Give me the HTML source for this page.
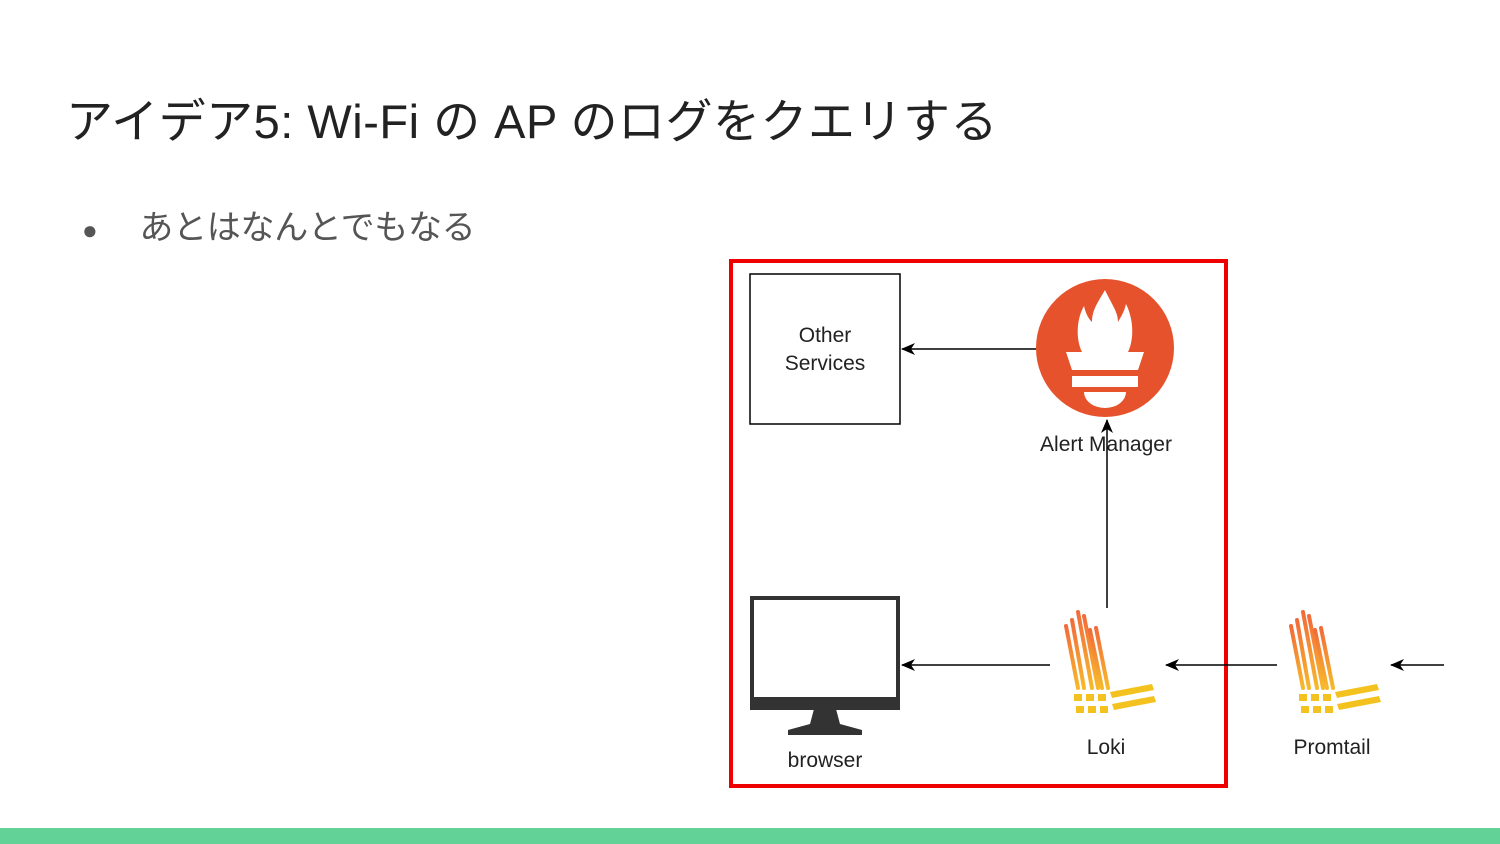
<!DOCTYPE html>
<html><head><meta charset="utf-8"><style>
body{margin:0;width:1500px;height:844px;background:#fff;overflow:hidden;position:relative;font-family:"Liberation Sans","Noto Sans CJK JP",sans-serif}
.t{position:absolute;left:66px;top:83px;font-size:47px;color:#222;white-space:nowrap;letter-spacing:0.5px}
.b{position:absolute;left:82px;top:200px;font-size:34px;color:#555;white-space:nowrap;letter-spacing:-0.3px}
.g{position:absolute;left:0;top:828px;width:1500px;height:16px;background:#63d297}
</style></head><body>
<div class="t">アイデア5: Wi-Fi の AP のログをクエリする</div>
<div class="b"><span style="font-size:26px;margin-right:42px">●</span>あとはなんとでもなる</div>
<svg width="1500" height="844" style="position:absolute;left:0;top:0">
<defs>
<marker id="a" markerWidth="14" markerHeight="14" refX="13" refY="7" orient="auto" markerUnits="userSpaceOnUse"><path d="M0,1 L14,7 L0,13 L4,7 Z" fill="#000"/></marker>
<linearGradient id="og" x1="0" y1="0" x2="0" y2="1"><stop offset="0" stop-color="#f26b3a"/><stop offset="1" stop-color="#f7b92b"/></linearGradient>
<g id="loki">
<g stroke="url(#og)" stroke-width="4" stroke-linecap="round">
<line x1="8" y1="20" x2="20" y2="82"/><line x1="14" y1="14" x2="26" y2="82"/>
<line x1="20" y1="6" x2="34" y2="82"/><line x1="26" y1="10" x2="40" y2="82"/>
<line x1="32" y1="24" x2="44" y2="82"/><line x1="38" y1="22" x2="50" y2="82"/>
</g>
<g fill="#f4c21f">
<rect x="16" y="88" width="8" height="7"/><rect x="28" y="88" width="8" height="7"/><rect x="40" y="88" width="8" height="7"/>
<rect x="18" y="100" width="8" height="7"/><rect x="30" y="100" width="8" height="7"/><rect x="42" y="100" width="8" height="7"/>
<polygon points="52,86 94,78 96,84 54,92"/><polygon points="54,98 96,90 98,96 56,104"/>
</g>
</g>
</defs>
<rect x="731" y="261" width="495" height="525" fill="none" stroke="#ee0000" stroke-width="4"/>
<rect x="750" y="274" width="150" height="150" fill="none" stroke="#000" stroke-width="1.5"/>
<text x="825" y="342" font-size="21" text-anchor="middle" fill="#222">Other</text>
<text x="825" y="370" font-size="21" text-anchor="middle" fill="#222">Services</text>
<circle cx="1105" cy="348" r="69" fill="#e6522c"/>
<path d="M1105,290 C1112,305 1118,312 1118,322 C1122,315 1124,312 1126,304 C1134,320 1134,340 1128,352 L1082,352 C1076,340 1076,320 1084,306 C1086,314 1088,318 1092,322 C1092,310 1098,302 1105,290Z" fill="#fff"/>
<path d="M1066,352 L1144,352 L1138,370 L1072,370Z" fill="#fff"/>
<rect x="1072" y="376" width="66" height="11" fill="#fff"/>
<path d="M1084,392 L1126,392 A21,16 0 0 1 1084,392Z" fill="#fff"/>
<line x1="1036" y1="349" x2="902" y2="349" stroke="#000" stroke-width="1.5" marker-end="url(#a)"/>
<line x1="1107" y1="608" x2="1107" y2="420" stroke="#000" stroke-width="1.5" marker-end="url(#a)"/>
<text x="1106" y="451" font-size="21" text-anchor="middle" fill="#222">Alert Manager</text>
<rect x="752" y="598" width="146" height="110" fill="none" stroke="#333" stroke-width="4"/>
<rect x="752" y="697" width="146" height="12" fill="#333"/>
<path d="M814,709 L836,709 L840,724 L862,730 L862,735 L788,735 L788,730 L810,724Z" fill="#333"/>
<text x="825" y="767" font-size="21" text-anchor="middle" fill="#222">browser</text>
<line x1="1050" y1="665" x2="902" y2="665" stroke="#000" stroke-width="1.5" marker-end="url(#a)"/>
<line x1="1277" y1="665" x2="1166" y2="665" stroke="#000" stroke-width="1.5" marker-end="url(#a)"/>
<line x1="1444" y1="665" x2="1391" y2="665" stroke="#000" stroke-width="1.5" marker-end="url(#a)"/>
<use href="#loki" x="1058" y="606"/>
<use href="#loki" x="1283" y="606"/>
<text x="1106" y="754" font-size="21" text-anchor="middle" fill="#222">Loki</text>
<text x="1332" y="754" font-size="21" text-anchor="middle" fill="#222">Promtail</text>
</svg>
<div class="g"></div>
</body></html>
